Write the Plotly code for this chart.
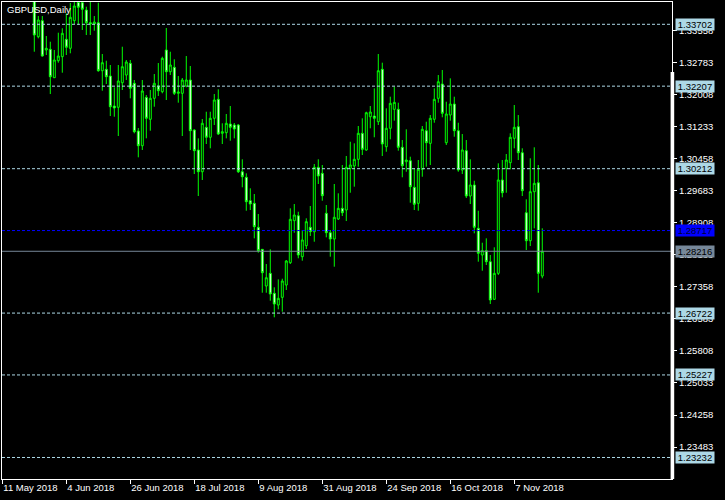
import plotly.graph_objects as go

# ---- data -------------------------------------------------------------
symbol_title = "GBPUSD,Daily"
date_labels = ["11 May 2018", "4 Jun 2018", "26 Jun 2018", "18 Jul 2018", "9 Aug 2018",
               "31 Aug 2018", "24 Sep 2018", "16 Oct 2018", "7 Nov 2018"]
date_label_bars = [0, 16, 32, 48, 64, 80, 96, 112, 128]

opens = [1.3545, 1.3550, 1.3565, 1.3500, 1.3525, 1.3505, 1.3465, 1.3445, 1.3460, 1.33402,
         1.33789, 1.33081, 1.33097, 1.32411, 1.32822, 1.32919, 1.33339, 1.33122, 1.33789, 1.34229,
         1.34224, 1.34047, 1.33740, 1.33709, 1.33740, 1.32580, 1.32614, 1.32452, 1.31727, 1.31696,
         1.32290, 1.32476, 1.32759, 1.32276, 1.31123, 1.30767, 1.31937, 1.31406, 1.31913, 1.32210,
         1.32073, 1.33081, 1.32556, 1.32662, 1.32034, 1.32034, 1.32210, 1.32355, 1.31147, 1.30664,
         1.30139, 1.31212, 1.30971, 1.31430, 1.31889, 1.31067, 1.31082, 1.31292, 1.31268, 1.31268,
         1.30139, 1.30004, 1.29438, 1.29375, 1.28795, 1.28263, 1.27376, 1.27683, 1.27200, 1.26917,
         1.27103, 1.27401, 1.27940, 1.28955, 1.29075, 1.28085, 1.28350, 1.28795, 1.28689, 1.30245,
         1.30100, 1.29134, 1.28665, 1.28512, 1.28996, 1.29254, 1.29214, 1.30221, 1.30277, 1.30439,
         1.31067, 1.30664, 1.31468, 1.31485, 1.31348, 1.32614, 1.30743, 1.31188, 1.31647, 1.31647,
         1.30729, 1.30381, 1.30405, 1.29762, 1.29375, 1.30197, 1.31130, 1.30825, 1.31406, 1.31913,
         1.32259, 1.30840, 1.31509, 1.31775, 1.31130, 1.30180, 1.30647, 1.29552, 1.29818, 1.28771,
         1.28126, 1.28230, 1.27964, 1.27055, 1.27683, 1.29939, 1.30221, 1.30357, 1.30946, 1.31227,
         1.30598, 1.29148, 1.28471, 1.29656, 1.29873, 1.27618]
highs = [1.3575, 1.3605, 1.3575, 1.3540, 1.3530, 1.3510, 1.3475, 1.3480, 1.3470, 1.33902,
         1.33902, 1.33419, 1.33281, 1.33081, 1.33499, 1.33605, 1.33968, 1.34217, 1.34280, 1.34400,
         1.34450, 1.34127, 1.34300, 1.33902, 1.34224, 1.32984, 1.32822, 1.32718, 1.32179, 1.32718,
         1.33160, 1.32839, 1.32839, 1.32355, 1.31195, 1.32355, 1.31993, 1.32114, 1.32500, 1.32766,
         1.32919, 1.33612, 1.33039, 1.32856, 1.32452, 1.32404, 1.32935, 1.32694, 1.31164, 1.30946,
         1.31413, 1.31589, 1.31589, 1.32017, 1.32131, 1.31309, 1.31534, 1.31727, 1.31316, 1.31292,
         1.30439, 1.30100, 1.29738, 1.29600, 1.29117, 1.28271, 1.27908, 1.28263, 1.27345, 1.27538,
         1.27553, 1.28005, 1.29254, 1.29358, 1.29172, 1.28730, 1.29013, 1.29310, 1.30325, 1.30439,
         1.30301, 1.29334, 1.28730, 1.29842, 1.29617, 1.30301, 1.30519, 1.30864, 1.30825, 1.31244,
         1.31430, 1.31589, 1.31727, 1.32155, 1.32984, 1.32774, 1.31671, 1.31952, 1.32194, 1.31807,
         1.30905, 1.31164, 1.30502, 1.30221, 1.30422, 1.31244, 1.31348, 1.31509, 1.32155, 1.32476,
         1.32597, 1.31831, 1.32396, 1.31952, 1.31323, 1.31050, 1.30905, 1.30439, 1.29921, 1.29196,
         1.28423, 1.28529, 1.28126, 1.28312, 1.30342, 1.30422, 1.30567, 1.31067, 1.31751, 1.31509,
         1.30705, 1.29472, 1.30463, 1.30729, 1.30301, 1.28771]
lows = [1.3500, 1.3525, 1.3470, 1.3460, 1.3480, 1.3450, 1.3435, 1.3435, 1.33039, 1.33363,
        1.32919, 1.32960, 1.32017, 1.32404, 1.32774, 1.32532, 1.32960, 1.33001, 1.33709, 1.33685,
        1.33564, 1.33443, 1.33443, 1.33547, 1.32556, 1.32097, 1.32259, 1.31485, 1.31468, 1.31002,
        1.32114, 1.32355, 1.31913, 1.31067, 1.30487, 1.30664, 1.30946, 1.31130, 1.31710, 1.31969,
        1.32034, 1.31872, 1.32476, 1.31993, 1.31807, 1.31002, 1.32179, 1.30664, 1.30083, 1.29552,
        1.29939, 1.30809, 1.30705, 1.31268, 1.31026, 1.30809, 1.30946, 1.30888, 1.30946, 1.30108,
        1.29762, 1.29196, 1.29213, 1.28529, 1.28181, 1.27214, 1.27214, 1.27021, 1.26620, 1.26813,
        1.26755, 1.27280, 1.27908, 1.28665, 1.28046, 1.27988, 1.28271, 1.28585, 1.28447, 1.29842,
        1.29438, 1.28553, 1.28085, 1.27843, 1.28972, 1.29068, 1.28947, 1.29631, 1.29777, 1.30260,
        1.30543, 1.30647, 1.31188, 1.30971, 1.31268, 1.30519, 1.30622, 1.30922, 1.31372, 1.30647,
        1.30004, 1.30139, 1.29390, 1.29213, 1.29196, 1.30018, 1.30260, 1.30301, 1.31323, 1.31807,
        1.31454, 1.30784, 1.31372, 1.30985, 1.30139, 1.30083, 1.29503, 1.29358, 1.28650, 1.27964,
        1.27746, 1.27884, 1.26941, 1.27039, 1.27642, 1.29520, 1.29631, 1.30197, 1.30705, 1.30422,
        1.29552, 1.28247, 1.28343, 1.28771, 1.27214, 1.27563]
closes = [1.3550, 1.3565, 1.3500, 1.3525, 1.3505, 1.3465, 1.3445, 1.3460, 1.33443, 1.33806,
          1.32935, 1.33122, 1.32435, 1.32839, 1.32935, 1.33484, 1.33146, 1.33871, 1.34144, 1.34113,
          1.34064, 1.33740, 1.33709, 1.33757, 1.32580, 1.32774, 1.32435, 1.31710, 1.31679, 1.32331,
          1.32677, 1.32790, 1.32155, 1.31106, 1.30767, 1.32090, 1.31430, 1.31913, 1.32276, 1.32097,
          1.32880, 1.32556, 1.32718, 1.32034, 1.32065, 1.32355, 1.32355, 1.31130, 1.30647, 1.30139,
          1.31309, 1.30971, 1.31430, 1.31872, 1.31050, 1.31106, 1.31309, 1.31212, 1.31171, 1.30139,
          1.30018, 1.29414, 1.29358, 1.28810, 1.28230, 1.27698, 1.27577, 1.27183, 1.26941, 1.27079,
          1.27497, 1.27981, 1.28989, 1.29092, 1.28126, 1.28489, 1.28931, 1.28689, 1.30245, 1.30035,
          1.29559, 1.28665, 1.28512, 1.29037, 1.29254, 1.29148, 1.30245, 1.30301, 1.30439, 1.31067,
          1.30680, 1.31565, 1.31582, 1.31430, 1.32580, 1.30809, 1.31188, 1.31792, 1.31816, 1.30729,
          1.30284, 1.30422, 1.29777, 1.29351, 1.30197, 1.31164, 1.30840, 1.31430, 1.31889, 1.32314,
          1.31550, 1.31534, 1.31775, 1.31130, 1.30180, 1.30664, 1.29552, 1.29818, 1.28795, 1.28167,
          1.28230, 1.27964, 1.27039, 1.27683, 1.29939, 1.29631, 1.30422, 1.30971, 1.31212, 1.30598,
          1.29680, 1.28471, 1.29656, 1.29859, 1.27683, 1.28216]

price_ticks = [1.33558, 1.32783, 1.32008, 1.31233, 1.30458, 1.29683, 1.28908, 1.28133,
               1.27358, 1.26583, 1.25808, 1.25033, 1.24258, 1.23483]
level_lines = [1.33702, 1.32207, 1.30212, 1.26722, 1.25227, 1.23232]
blue_level = 1.28717
bid_price = 1.28216
y_min, y_max = 1.22712, 1.34241

# ---- figure -----------------------------------------------------------
FONT = "Liberation Sans"
bars = list(range(len(opens)))

fig = go.Figure(go.Candlestick(
    x=bars, open=opens, high=highs, low=lows, close=closes,
    increasing=dict(line=dict(color="#00ff00", width=1), fillcolor="#000000"),
    decreasing=dict(line=dict(color="#00ff00", width=1), fillcolor="#ffffff"),
    whiskerwidth=0, showlegend=False, hoverinfo="skip"))

shapes = []
for lv in level_lines:
    shapes.append(dict(type="line", xref="paper", x0=0, x1=1, yref="y", y0=lv, y1=lv,
                       line=dict(color="#add8e6", width=1, dash="3px,2px"), layer="above"))
shapes.append(dict(type="line", xref="paper", x0=0, x1=1, yref="y", y0=blue_level, y1=blue_level,
                   line=dict(color="#0000ff", width=1, dash="3px,2px"), layer="above"))
shapes.append(dict(type="line", xref="paper", x0=0, x1=1, yref="y", y0=bid_price, y1=bid_price,
                   line=dict(color="#778899", width=1), layer="above"))
# thick white strip on the right scale border
shapes.append(dict(type="rect", xref="paper", x0=(670.6 - 2) / 670, x1=(674.2 - 2) / 670,
                   yref="y", y0=y_min, y1=1.3255, fillcolor="#ffffff", line=dict(width=0),
                   layer="above"))

annotations = [dict(text=symbol_title, xref="paper", yref="paper", x=0, y=1, xanchor="left",
                    yanchor="top", xshift=3, yshift=0, showarrow=False,
                    font=dict(family=FONT, size=9.5, color="#ffffff"))]


def price_label(val, bg, fg):
    return dict(text=f"{val:.5f}", xref="paper", yref="y", x=1, y=val, xanchor="left",
                yanchor="middle", xshift=3, showarrow=False, bgcolor=bg, borderpad=0,
                width=38, height=11, align="center",
                font=dict(family=FONT, size=9.5, color=fg))


for lv in level_lines:
    annotations.append(price_label(lv, "#add8e6", "#000000"))
annotations.append(price_label(blue_level, "#0000ff", "#000033"))
annotations.append(price_label(bid_price, "#778899", "#000000"))

fig.update_layout(
    width=725, height=500, autosize=False,
    paper_bgcolor="#000000", plot_bgcolor="#000000",
    margin=dict(l=2, r=53, t=2, b=21, pad=0),
    shapes=shapes, annotations=annotations,
    font=dict(family=FONT, size=9.5, color="#ffffff"),
    xaxis=dict(range=[-0.075, 167.43], rangeslider=dict(visible=False),
               tickvals=date_label_bars, ticktext=date_labels,
               ticklabelposition="outside right", ticks="outside", ticklen=4,
               tickcolor="#ffffff", tickfont=dict(family=FONT, size=9.5, color="#ffffff"),
               showgrid=False, zeroline=False, showline=True, linecolor="#ffffff",
               linewidth=1, mirror=True, fixedrange=True),
    yaxis=dict(range=[y_min, y_max], side="right",
               tickvals=price_ticks, ticktext=[f"{v:.5f}" for v in price_ticks],
               ticks="outside", ticklen=4, tickcolor="#ffffff",
               tickfont=dict(family=FONT, size=9.5, color="#ffffff"),
               showgrid=False, zeroline=False, showline=True, linecolor="#ffffff",
               linewidth=1, mirror=True, fixedrange=True),
)

fig.write_html("out.html",
               config={"displayModeBar": False},
               post_script="document.body.style.margin='0';"
                           "document.body.style.background='#000000';")
